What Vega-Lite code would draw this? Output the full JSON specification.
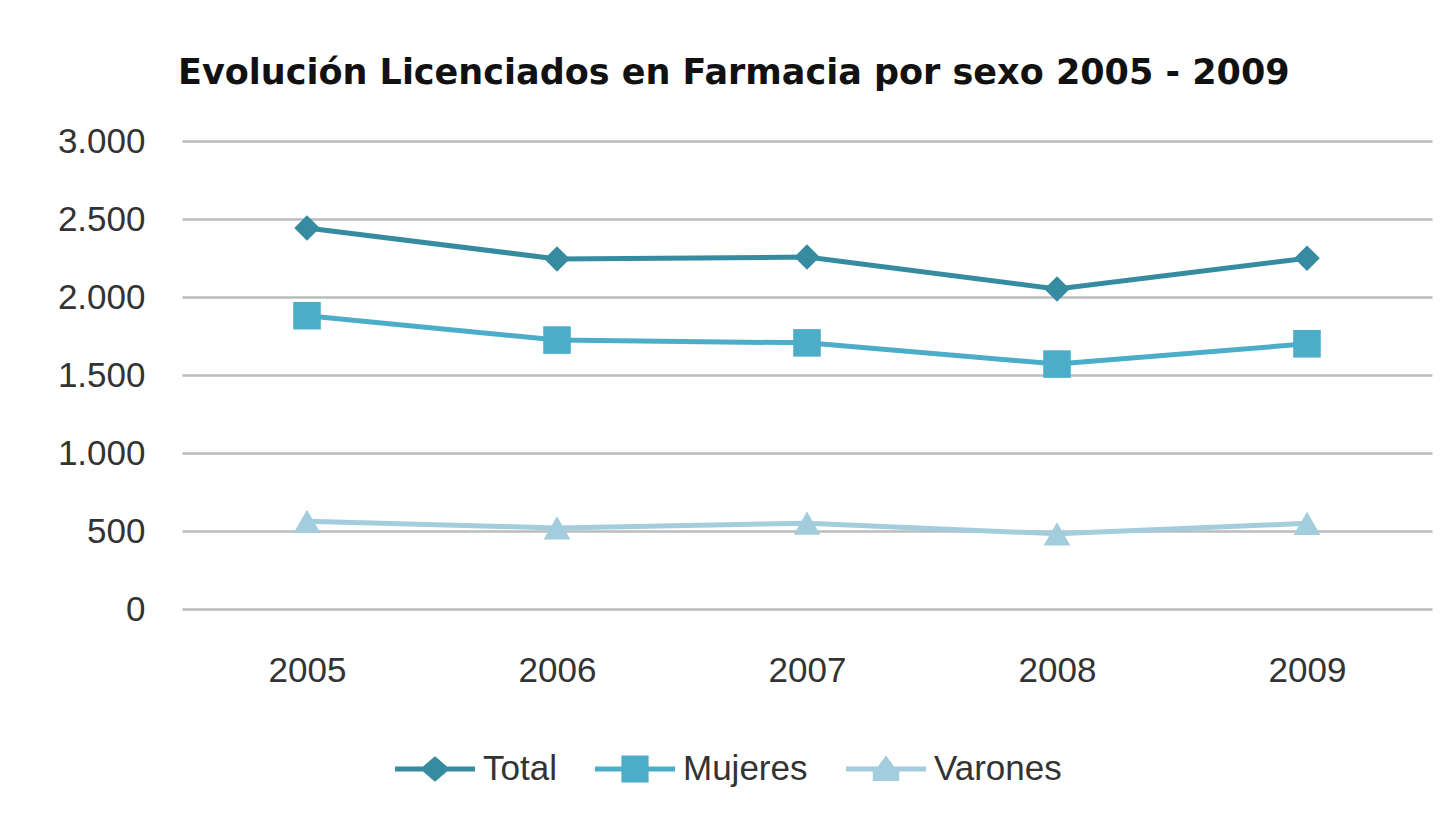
{
  "$schema": "https://vega.github.io/schema/vega-lite/v6.json",
  "width": 1250,
  "height": 468,
  "autosize": {"type": "none"},
  "padding": {"left": 182, "top": 141, "right": 19, "bottom": 206},
  "background": "white",
  "title": {
    "text": "Evolución Licenciados en Farmacia por sexo 2005 - 2009",
    "anchor": "start",
    "frame": "group",
    "dx": -4,
    "offset": 5,
    "baseline": "alphabetic",
    "font": "DejaVu Sans",
    "fontSize": 35,
    "fontWeight": "bold",
    "color": "#111111"
  },
  "data": {
    "values": [
      {"year": "2005", "serie": "Total", "value": 2442},
      {"year": "2006", "serie": "Total", "value": 2244},
      {"year": "2007", "serie": "Total", "value": 2256},
      {"year": "2008", "serie": "Total", "value": 2052},
      {"year": "2009", "serie": "Total", "value": 2249},
      {"year": "2005", "serie": "Mujeres", "value": 1880},
      {"year": "2006", "serie": "Mujeres", "value": 1724},
      {"year": "2007", "serie": "Mujeres", "value": 1706},
      {"year": "2008", "serie": "Mujeres", "value": 1570},
      {"year": "2009", "serie": "Mujeres", "value": 1700},
      {"year": "2005", "serie": "Varones", "value": 562},
      {"year": "2006", "serie": "Varones", "value": 520},
      {"year": "2007", "serie": "Varones", "value": 550},
      {"year": "2008", "serie": "Varones", "value": 482},
      {"year": "2009", "serie": "Varones", "value": 549}
    ]
  },
  "encoding": {
    "x": {
      "field": "year",
      "type": "ordinal",
      "scale": {"type": "point", "padding": 0.5},
      "axis": {
        "title": null,
        "labelAngle": 0,
        "ticks": false,
        "domain": false,
        "grid": false,
        "labelPadding": 44,
        "labelFont": "Liberation Sans",
        "labelFontSize": 35,
        "labelColor": "#333333"
      }
    },
    "y": {
      "field": "value",
      "type": "quantitative",
      "scale": {"domain": [0, 3000], "nice": false},
      "axis": {
        "title": null,
        "values": [0, 500, 1000, 1500, 2000, 2500, 3000],
        "labelExpr": "replace(format(datum.value, ','), ',', '.')",
        "ticks": false,
        "domain": false,
        "grid": true,
        "gridColor": "#bcbcbc",
        "gridWidth": 2.5,
        "labelPadding": 37,
        "labelFont": "Liberation Sans",
        "labelFontSize": 35,
        "labelColor": "#333333"
      }
    }
  },
  "layer": [
    {
      "mark": {"type": "point", "filled": true, "opacity": 1, "size": 4},
      "encoding": {
        "color": {
          "field": "serie",
          "type": "nominal",
          "sort": ["Total", "Mujeres", "Varones"],
          "scale": {"domain": ["Total", "Mujeres", "Varones"], "range": ["#368ba1", "#4badc7", "#a3cddc"]},
          "legend": {
            "title": null,
            "orient": "none",
            "direction": "horizontal",
            "legendX": 213,
            "legendY": 588,
            "symbolSize": 6400,
            "symbolOpacity": 1,
            "symbolStrokeWidth": 0,
            "columnPadding": 38,
            "labelOffset": 8,
            "labelFont": "Liberation Sans",
            "labelFontSize": 35,
            "labelColor": "#333333"
          }
        },
        "shape": {
          "field": "serie",
          "type": "nominal",
          "sort": ["Total", "Mujeres", "Varones"],
          "scale": {
            "domain": ["Total", "Mujeres", "Varones"],
            "range": [
              "M-1,-0.065H-0.3L0,-0.32L0.3,-0.065H1V0.065H0.3L0,0.32L-0.3,0.065H-1Z",
              "M-1,-0.065H-0.34V-0.34H0.34V-0.065H1V0.065H0.34V0.34H-0.34V0.065H-1Z",
              "M-1,-0.065H-0.2L0,-0.34L0.2,-0.065H1V0.065H0.33L0.33,0.3H-0.33L-0.33,0.065H-1Z"
            ]
          }
        }
      }
    },
    {
      "mark": {"type": "line", "strokeWidth": 5},
      "encoding": {
        "stroke": {
          "field": "serie",
          "type": "nominal",
          "scale": {"domain": ["Varones", "Mujeres", "Total"], "range": ["#a3cddc", "#4badc7", "#368ba1"]},
          "legend": null
        }
      }
    },
    {
      "transform": [{"filter": "datum.serie === 'Total'"}],
      "mark": {"type": "point", "shape": "diamond", "filled": true, "opacity": 1, "size": 650, "strokeWidth": 0},
      "encoding": {
        "fill": {
          "field": "serie",
          "type": "nominal",
          "scale": {"domain": ["Mujeres", "Varones", "Total"], "range": ["#4badc7", "#a3cddc", "#368ba1"]},
          "legend": null
        }
      }
    },
    {
      "transform": [{"filter": "datum.serie === 'Mujeres'"}],
      "mark": {"type": "point", "shape": "square", "filled": true, "opacity": 1, "size": 760, "strokeWidth": 0},
      "encoding": {
        "fill": {
          "field": "serie",
          "type": "nominal",
          "scale": {"domain": ["Mujeres", "Varones", "Total"], "range": ["#4badc7", "#a3cddc", "#368ba1"]},
          "legend": null
        }
      }
    },
    {
      "transform": [{"filter": "datum.serie === 'Varones'"}],
      "mark": {"type": "point", "shape": "triangle-up", "filled": true, "opacity": 1, "size": 720, "strokeWidth": 0},
      "encoding": {
        "fill": {
          "field": "serie",
          "type": "nominal",
          "scale": {"domain": ["Mujeres", "Varones", "Total"], "range": ["#4badc7", "#a3cddc", "#368ba1"]},
          "legend": null
        }
      }
    }
  ],
  "config": {
    "view": {"stroke": null}
  }
}
